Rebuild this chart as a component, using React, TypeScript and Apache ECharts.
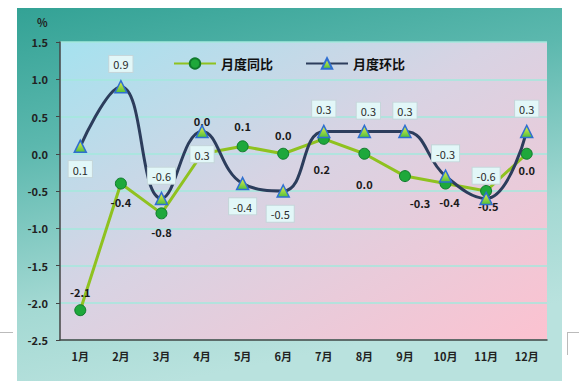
import React, { useEffect, useRef } from "react";
import * as echarts from "echarts";

const months = ["1月", "2月", "3月", "4月", "5月", "6月", "7月", "8月", "9月", "10月", "11月", "12月"];
const yoyValues = [-2.1, -0.4, -0.8, 0.0, 0.1, 0.0, 0.2, 0.0, -0.3, -0.4, -0.5, 0.0];
const momValues = [0.1, 0.9, -0.6, 0.3, -0.4, -0.5, 0.3, 0.3, 0.3, -0.3, -0.6, 0.3];
const yoyName = "月度同比";
const momName = "月度环比";

// label placement (styling, not data)
const yoyLabelPlace: [string, number[]][] = [
  ["top", [0, 0]],
  ["bottom", [0, 0]],
  ["bottom", [0, 0]],
  ["top", [0, -14]],
  ["top", [0, -2]],
  ["top", [0, 0]],
  ["bottom", [-2, 12]],
  ["bottom", [0, 12]],
  ["bottom", [15, 8]],
  ["bottom", [4, 0]],
  ["bottom", [2, -4]],
  ["bottom", [0, -2]],
];
const momLabelPlace: [string, number[]][] = [
  ["bottom", [0, 0]],
  ["top", [0, 0]],
  ["top", [0, 0]],
  ["bottom", [0, 0]],
  ["bottom", [0, 0]],
  ["bottom", [-3, 0]],
  ["top", [0, 0]],
  ["top", [4, 2]],
  ["top", [0, 2]],
  ["top", [0, 0]],
  ["top", [0, 0]],
  ["top", [0, 0]],
];

const FONT = "'Noto Sans CJK SC', 'Noto Sans', sans-serif";

export default function App() {
  const ref = useRef<HTMLDivElement>(null);
  useEffect(() => {
    document.body.style.margin = "0";
    if (!ref.current) return;
    const chart = echarts.init(ref.current, null, { renderer: "svg" });
    const gridL = 60, gridT = 42, gridR = 32, gridB = 51;
    chart.setOption({
      animation: false,
      backgroundColor: "#ffffff",
      textStyle: { fontFamily: FONT },
      graphic: [
        {
          type: "rect",
          z: -10,
          shape: { x: 17, y: 8, width: 545, height: 373 },
          style: {
            fill: new echarts.graphic.LinearGradient(0, 0, 0.3, 1, [
              { offset: 0, color: "#33a295" },
              { offset: 0.35, color: "#5cb8ae" },
              { offset: 0.75, color: "#a4d9d3" },
              { offset: 1, color: "#b9e2de" },
            ]),
          },
        },
        {
          type: "text",
          left: 37,
          top: 16,
          style: { text: "%", font: `bold 11px ${FONT}`, fill: "#222" },
        },
        { type: "line", shape: { x1: 0, y1: 332.5, x2: 13, y2: 332.5 }, style: { stroke: "#bbbbbb", lineWidth: 1 } },
        { type: "line", shape: { x1: 567.5, y1: 332, x2: 567.5, y2: 355 }, style: { stroke: "#bbbbbb", lineWidth: 1 } },
        { type: "line", shape: { x1: 567, y1: 332.5, x2: 579, y2: 332.5 }, style: { stroke: "#bbbbbb", lineWidth: 1 } },
      ],
      legend: {
        left: 168,
        top: 52,
        itemWidth: 42,
        itemHeight: 13,
        itemGap: 32,
        textStyle: { fontWeight: "bold", fontSize: 13, color: "#111", fontFamily: FONT },
        data: [yoyName, momName],
      },
      grid: {
        left: gridL,
        top: gridT,
        right: gridR,
        bottom: gridB,
        show: true,
        borderWidth: 0,
        backgroundColor: new echarts.graphic.LinearGradient(0, 0, 1, 1, [
          { offset: 0, color: "#a5e2ef" },
          { offset: 0.45, color: "#d8d3e3" },
          { offset: 1, color: "#fcc2d0" },
        ]),
      },
      xAxis: {
        type: "category",
        data: months,
        boundaryGap: true,
        axisLine: { onZero: false, lineStyle: { color: "#444", width: 1.5 } },
        axisTick: { show: false },
        axisLabel: { color: "#222", fontWeight: "bold", fontSize: 11, margin: 10, fontFamily: FONT },
      },
      yAxis: {
        type: "value",
        min: -2.5,
        max: 1.5,
        interval: 0.5,
        axisLine: { show: true, lineStyle: { color: "#444", width: 1.5 } },
        axisTick: { show: true, length: 4, lineStyle: { color: "#444" } },
        axisLabel: {
          color: "#222",
          fontWeight: "bold",
          fontSize: 11,
          margin: 12,
          fontFamily: FONT,
          formatter: (v: number) => v.toFixed(1),
        },
        splitLine: { lineStyle: { color: "#a3e8dd", width: 1.5 } },
      },
      series: [
        {
          name: yoyName,
          type: "line",
          z: 3,
          data: yoyValues.map((v, i) => ({
            value: v,
            label: { position: yoyLabelPlace[i][0], offset: yoyLabelPlace[i][1] },
          })),
          lineStyle: { color: "#8fc21f", width: 3 },
          symbol: "circle",
          symbolSize: 11,
          itemStyle: { color: "#1ea83b", borderColor: "#0f7a2c", borderWidth: 1 },
          label: {
            show: true,
            distance: 7,
            color: "#1a1a1a",
            fontWeight: "bold",
            fontSize: 11,
            fontFamily: FONT,
            formatter: (p: any) => Number(p.value).toFixed(1),
          },
        },
        {
          name: momName,
          type: "line",
          z: 4,
          smooth: 0.45,
          data: momValues.map((v, i) => ({
            value: v,
            label: { position: momLabelPlace[i][0], offset: momLabelPlace[i][1] },
          })),
          lineStyle: { color: "#2c3d5c", width: 3 },
          symbol: "triangle",
          symbolSize: 12,
          itemStyle: {
            color: new echarts.graphic.LinearGradient(0, 0, 0, 1, [
              { offset: 0, color: "#f3f24a" },
              { offset: 1, color: "#4fbf3c" },
            ]),
            borderColor: "#2f6fd0",
            borderWidth: 1.5,
          },
          label: {
            show: true,
            distance: 8,
            color: "#2a2a2a",
            fontSize: 11,
            fontFamily: FONT,
            backgroundColor: "#e2f7f8",
            borderColor: "#c5d6da",
            borderWidth: 1,
            padding: [3, 4, 2, 4],
            formatter: (p: any) => Number(p.value).toFixed(1),
          },
        },
      ],
    });
    return () => chart.dispose();
  }, []);
  return <div ref={ref} style={{ width: 579, height: 391 }} />;
}
